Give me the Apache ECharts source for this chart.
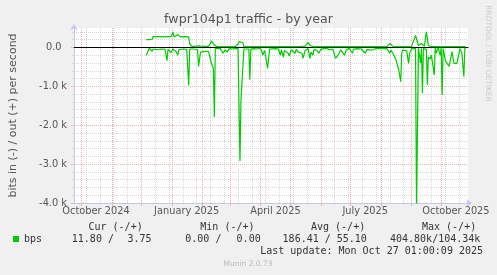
<!DOCTYPE html>
<html><head><meta charset="utf-8">
<script src="https://cdn.jsdelivr.net/npm/echarts@6/dist/echarts.min.js"></script>
<style>html,body{margin:0;padding:0;background:#f0f0f0}#c{width:497px;height:275px}</style>
</head><body><div id="c"></div>
<script>
// ---- data (daily averages, bits per second) ----
const dates = [
 '2024-12-06','2024-12-07','2024-12-09','2024-12-10','2024-12-12','2024-12-13','2024-12-15','2024-12-17','2024-12-19','2024-12-21',
 '2024-12-23','2024-12-25','2024-12-27','2024-12-28','2024-12-30','2024-12-31','2025-01-02','2025-01-03','2025-01-05','2025-01-07',
 '2025-01-08','2025-01-10','2025-01-12','2025-01-14','2025-01-16','2025-01-18','2025-01-19','2025-01-21','2025-01-23','2025-01-25',
 '2025-01-27','2025-01-28','2025-01-29','2025-01-30','2025-02-01','2025-02-04','2025-02-07','2025-02-09','2025-02-10','2025-02-12',
 '2025-02-13','2025-02-14','2025-02-16','2025-02-19','2025-02-22','2025-02-24','2025-02-26','2025-02-28','2025-03-03','2025-03-06',
 '2025-03-09','2025-03-10','2025-03-11','2025-03-12','2025-03-14','2025-03-15','2025-03-17','2025-03-20','2025-03-21','2025-03-22',
 '2025-03-25','2025-03-28','2025-03-31','2025-04-02','2025-04-03','2025-04-05','2025-04-07','2025-04-08','2025-04-10','2025-04-12',
 '2025-04-16','2025-04-19','2025-04-21','2025-04-22','2025-04-24','2025-04-25','2025-04-27','2025-04-29','2025-04-30','2025-05-02',
 '2025-05-04','2025-05-06','2025-05-07','2025-05-09','2025-05-11','2025-05-13','2025-05-14','2025-05-16','2025-05-17','2025-05-19',
 '2025-05-21','2025-05-22','2025-05-24','2025-05-25','2025-05-28','2025-05-30','2025-06-01','2025-06-04','2025-06-07','2025-06-10',
 '2025-06-13','2025-06-14','2025-06-16','2025-06-18','2025-06-19','2025-06-21','2025-06-23','2025-06-25','2025-06-27','2025-06-30',
 '2025-07-03','2025-07-04','2025-07-08','2025-07-12','2025-07-16','2025-07-18','2025-07-21','2025-07-24','2025-07-27','2025-08-02',
 '2025-08-07','2025-08-08','2025-08-10','2025-08-11','2025-08-13','2025-08-14','2025-08-16','2025-08-18','2025-08-19','2025-08-20',
 '2025-08-21','2025-08-22','2025-08-23','2025-08-25','2025-08-27','2025-08-29','2025-08-30','2025-09-01','2025-09-03','2025-09-05',
 '2025-09-06','2025-09-07','2025-09-08','2025-09-10','2025-09-11','2025-09-12','2025-09-13','2025-09-14','2025-09-16','2025-09-17',
 '2025-09-18','2025-09-20','2025-09-21','2025-09-22','2025-09-24','2025-09-25','2025-09-26','2025-09-27','2025-09-28','2025-09-30',
 '2025-10-01','2025-10-02','2025-10-03','2025-10-04','2025-10-05','2025-10-07','2025-10-09','2025-10-10','2025-10-12','2025-10-14',
 '2025-10-15','2025-10-17','2025-10-18','2025-10-20','2025-10-22','2025-10-24','2025-10-25','2025-10-26'
];
const outBps = [
 200,200,200,200,210,280,270,280,270,280,
 280,270,280,280,270,280,400,270,280,330,
 300,270,280,280,280,270,100,30,30,30,
 30,40,40,30,30,30,30,100,170,120,
 60,30,20,20,20,20,20,20,20,20,
 80,150,160,120,120,20,20,20,20,20,
 20,20,20,20,20,20,20,20,20,20,
 20,20,20,20,20,20,20,20,20,20,
 20,20,20,20,20,30,40,30,50,130,
 50,30,20,20,20,20,20,20,20,20,
 20,20,20,20,20,20,20,20,20,20,
 20,20,20,20,20,20,20,20,20,20,
 20,60,100,90,30,20,20,20,20,20,
 20,20,20,20,20,20,20,20,20,310,
 310,300,50,30,100,60,100,30,400,400,
 50,20,20,20,20,20,40,20,20,20,
 20,20,20,20,20,20,20,20,60,20,
 20,20,20,20,20,20,20,20
];
// incoming traffic (drawn below zero); the 6-7 Sep spike runs past the -4.0 k floor
const inBps = [
 200,200,20,60,100,40,30,60,20,40,
 30,50,340,50,40,130,40,30,100,200,
 60,30,40,30,50,980,40,30,40,30,
 60,490,490,120,100,100,100,120,400,540,
 1790,30,30,30,150,60,120,30,40,30,
 30,50,2920,1360,1360,40,30,40,830,40,
 30,40,20,80,200,80,50,540,40,30,
 30,40,200,60,250,80,60,150,220,60,
 80,150,50,120,80,150,280,80,100,30,
 280,120,200,50,80,150,50,30,30,60,
 40,60,280,250,180,60,30,200,50,30,
 150,50,30,40,150,50,70,60,30,30,
 30,60,150,70,150,200,300,350,580,580,
 880,150,70,30,80,410,150,30,50,30,
 4050,4050,20,400,30,1170,30,20,50,960,
 240,300,200,350,710,10,150,70,10,200,
 10,1220,30,150,320,410,490,490,110,410,
 410,410,450,30,150,750,20,20
];
const monthStarts = ['2024-10-01','2024-11-01','2024-12-01','2025-01-01','2025-02-01','2025-03-01','2025-04-01',
 '2025-05-01','2025-06-01','2025-07-01','2025-08-01','2025-09-01','2025-10-01'];
const monthLabels = ['2024-10-16','2025-01-16','2025-04-16','2025-07-16','2025-10-16'];
const weekGrid = ['2024-10-06','2024-10-20','2024-11-03','2024-11-17','2024-12-15','2024-12-29','2025-01-12','2025-01-26',
 '2025-02-09','2025-02-23','2025-03-09','2025-03-23','2025-04-06','2025-04-20','2025-05-04','2025-05-18','2025-06-15',
 '2025-06-29','2025-07-13','2025-07-27','2025-08-10','2025-08-24','2025-09-07','2025-09-21','2025-10-05','2025-10-19'];
const yMajor = [-4000,-3000,-2000,-1000,0];
const yMinor = [-3800,-3600,-3400,-3200,-2800,-2600,-2400,-2200,-1800,-1600,-1400,-1200,-800,-600,-400,-200,200,400];
const statHeaders = ['Cur (-/+)','Min (-/+)','Avg (-/+)','Max (-/+)'];
const statCur = ['11.80','3.75'];
const statMin = ['0.00','0.00'];
const statAvg = ['186.41','55.10'];
const statMax = ['404.80k','104.34k'];
const lastUpdate = 'Mon Oct 27 01:00:09 2025';

// ---- chart ----
const T = s => echarts.time.parse(s).getTime();
const monthNames = ['January','February','March','April','May','June','July','August','September','October','November','December'];
const xMin = T('2024-09-23 17:00'), xMax = T('2025-10-28 05:00');
const RED = '#f4b0b0', GRAY = '#d6d6d6', AXIS = '#c4c6f4', TXT = '#555';
const mono = '10px "DejaVu Sans Mono"';
const labelFont = {color: TXT, fontSize: 9.8, fontFamily: 'DejaVu Sans'};

const chart = echarts.init(document.getElementById('c'), null, {renderer: 'canvas'});
chart.setOption({
  animation: false,
  backgroundColor: '#f0f0f0',
  title: {text: 'fwpr104p1 traffic - by year', left: 'center', top: 13, padding: 0,
    textStyle: {fontFamily: 'DejaVu Sans', fontSize: 12.6, fontWeight: 'normal', color: TXT}},
  grid: {left: 67, right: 29, top: 28, bottom: 72, show: true, backgroundColor: '#ffffff', borderWidth: 0},
  legend: {data: [{name: 'bps', icon: 'rect'}], left: 13, top: 234, itemWidth: 6, itemHeight: 6, selectedMode: false,
    padding: 0, textStyle: {fontFamily: 'DejaVu Sans Mono', fontSize: 10, color: '#333'}},
  xAxis: [
    {type: 'value', min: xMin, max: xMax, position: 'bottom',
      axisLine: {show: false}, axisLabel: {show: false},
      axisTick: {show: true, customValues: weekGrid.map(T), length: 2, lineStyle: {color: GRAY}},
      splitLine: {show: true, lineStyle: {color: GRAY, type: [1, 1]}}},
    {type: 'value', min: xMin, max: xMax, position: 'bottom', z: 1,
      axisLine: {onZero: false, lineStyle: {color: AXIS}, symbol: ['none', 'arrow'], symbolSize: [6, 6], symbolOffset: [0, 4]},
      axisTick: {show: true, customValues: monthStarts.map(T), length: 3, lineStyle: {color: RED}},
      axisLabel: Object.assign({customValues: monthLabels.map(T), margin: 3,
        formatter: v => { const d = new Date(v); return monthNames[d.getMonth()] + ' ' + d.getFullYear(); }}, labelFont),
      splitLine: {show: true, lineStyle: {color: RED, type: [1, 1]}}},
    {type: 'value', min: xMin, max: xMax, position: 'bottom', z: 1,
      axisLine: {show: true, onZero: true, lineStyle: {color: '#000', width: 1}},
      axisTick: {show: false}, axisLabel: {show: false}, splitLine: {show: false}}
  ],
  yAxis: [
    {type: 'value', min: -4000, max: 500, position: 'left',
      axisLine: {show: false}, axisLabel: {show: false},
      axisTick: {show: true, customValues: yMinor, length: 2, lineStyle: {color: GRAY}},
      splitLine: {show: true, lineStyle: {color: GRAY, type: [1, 1]}}},
    {type: 'value', min: -4000, max: 500, position: 'left', z: 1,
      name: 'bits in (-) / out (+) per second', nameLocation: 'middle', nameRotate: 90, nameGap: 55,
      nameTextStyle: {fontFamily: 'DejaVu Sans', fontSize: 11, color: TXT},
      axisLine: {show: true, lineStyle: {color: AXIS}, symbol: ['none', 'arrow'], symbolSize: [6, 6], symbolOffset: [0, 4]},
      axisTick: {show: true, customValues: yMajor, length: 3, lineStyle: {color: RED}},
      axisLabel: Object.assign({customValues: yMajor, margin: 7,
        formatter: v => v === 0 ? '{z|0.0}' : (v / 1000).toFixed(1) + ' k',
        rich: {z: Object.assign({width: 21, align: 'left'}, labelFont)}}, labelFont),
      splitLine: {show: true, lineStyle: {color: RED, type: [1, 1]}}}
  ],
  series: [
    {name: 'bps', type: 'line', xAxisIndex: 1, yAxisIndex: 1, z: 3, showSymbol: false, symbol: 'none',
      data: dates.map((d, i) => [T(d), -inBps[i]]), lineStyle: {color: '#00cc00', width: 1.2}, itemStyle: {color: '#00cc00'}},
    {name: 'bps', type: 'line', xAxisIndex: 1, yAxisIndex: 1, z: 3, showSymbol: false, symbol: 'none',
      data: dates.map((d, i) => [T(d), outBps[i]]), lineStyle: {color: '#00cc00', width: 1.2}, itemStyle: {color: '#00cc00'}}
  ],
  graphic: [
    {type: 'text', x: 88.5, y: 227.5, style: {text: statHeaders[0], font: mono, fill: '#333', verticalAlign: 'middle'}},
    {type: 'text', x: 200.3, y: 227.5, style: {text: statHeaders[1], font: mono, fill: '#333', verticalAlign: 'middle'}},
    {type: 'text', x: 311, y: 227.5, style: {text: statHeaders[2], font: mono, fill: '#333', verticalAlign: 'middle'}},
    {type: 'text', x: 422, y: 227.5, style: {text: statHeaders[3], font: mono, fill: '#333', verticalAlign: 'middle'}},
    {type: 'text', x: 71.8, y: 239.5, style: {text: statCur[0] + ' /', font: mono, fill: '#333', verticalAlign: 'middle'}},
    {type: 'text', x: 127.4, y: 239.5, style: {text: statCur[1], font: mono, fill: '#333', verticalAlign: 'middle'}},
    {type: 'text', x: 185.3, y: 239.5, style: {text: statMin[0] + ' /', font: mono, fill: '#333', verticalAlign: 'middle'}},
    {type: 'text', x: 236.6, y: 239.5, style: {text: statMin[1], font: mono, fill: '#333', verticalAlign: 'middle'}},
    {type: 'text', x: 282.6, y: 239.5, style: {text: statAvg[0] + ' / ' + statAvg[1], font: mono, fill: '#333', verticalAlign: 'middle'}},
    {type: 'text', x: 390, y: 239.5, style: {text: statMax[0] + '/' + statMax[1], font: mono, fill: '#333', verticalAlign: 'middle'}},
    {type: 'text', x: 483, y: 251.8, style: {text: 'Last update: ' + lastUpdate, font: mono, fill: '#333', align: 'right', verticalAlign: 'middle'}},
    {type: 'text', x: 248, y: 264.5, style: {text: 'Munin 2.0.73', font: '7.5px "DejaVu Sans"', fill: '#b8b8b8', align: 'center', verticalAlign: 'middle'}},
    {type: 'text', x: 487.7, y: 53.5, rotation: -Math.PI / 2,
      style: {text: 'RRDTOOL / TOBI OETIKER', font: '7.5px "DejaVu Sans"', fill: '#cacaca', align: 'center', verticalAlign: 'middle'}}
  ]
});
</script></body></html>
